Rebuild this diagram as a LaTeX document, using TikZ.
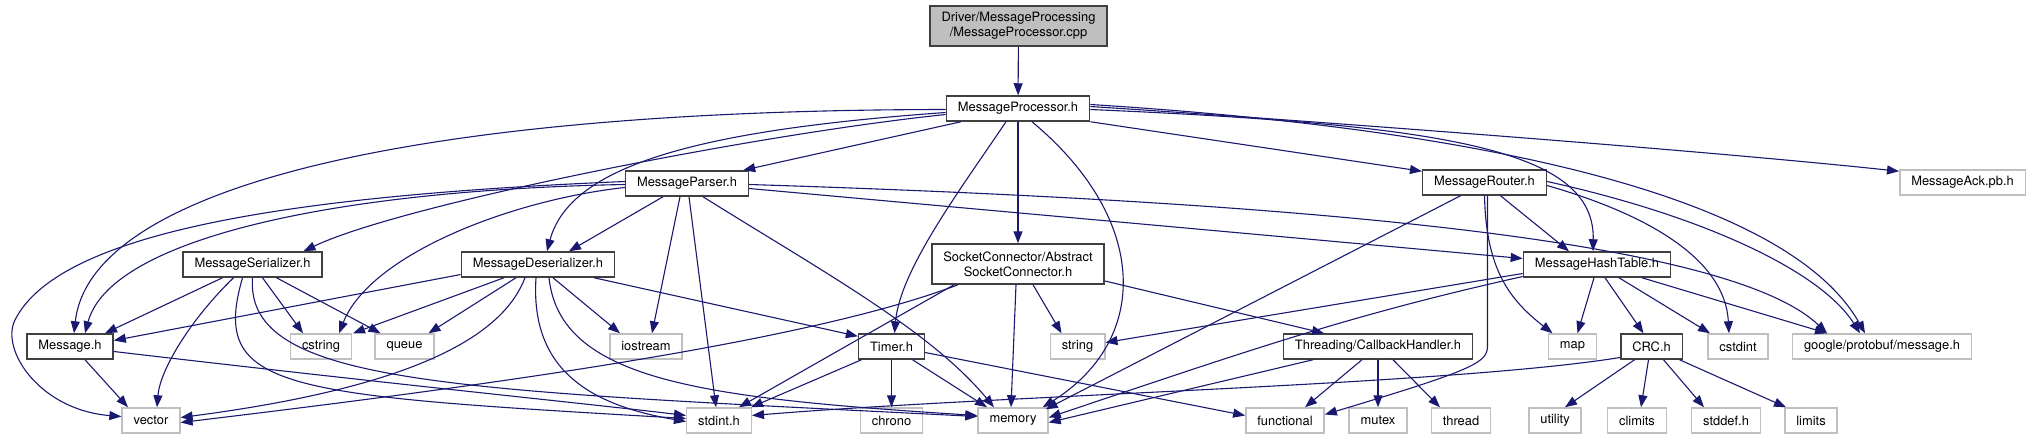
\documentclass[tikz,border=0pt]{standalone}
\usepackage{fontspec}
\setmainfont{TeX Gyre Heros}
\usetikzlibrary{arrows.meta}
\definecolor{edgeblue}{HTML}{191970}
\definecolor{boxgray}{HTML}{BFBFBF}
\begin{document}
\begin{tikzpicture}[x=1pt,y=-1pt,
  font=\fontsize{12.9}{15.3}\selectfont,
  hdr/.style={draw=black!75,fill=white,line width=1.5pt,
    minimum height=25pt,inner xsep=11.5pt,inner ysep=1pt,align=center},
  sys/.style={hdr,draw=boxgray},
  src/.style={hdr,fill=boxgray,minimum height=40pt},
  inc/.style={draw=edgeblue,line width=1.1pt,
    -{Triangle[length=12pt,width=9pt]}}]
\useasboundingbox (0,0) rectangle (2031,440);
\node[src] (cpp) at (1018.5,26) {Driver/MessageProcessing\\/MessageProcessor.cpp};
\node[hdr] (proc) at (1018,108.5) {MessageProcessor.h};
\node[hdr] (parser) at (687,183.5) {MessageParser.h};
\node[hdr] (router) at (1484.5,182.5) {MessageRouter.h};
\node[sys] (ack) at (1962.5,182.5) {MessageAck.pb.h};
\node[hdr] (ser) at (252.5,264.5) {MessageSerializer.h};
\node[hdr] (deser) at (538,264.5) {MessageDeserializer.h};
\node[hdr,minimum height=40pt] (sock) at (1018,264) {SocketConnector/Abstract\\SocketConnector.h};
\node[hdr] (hash) at (1597,264.5) {MessageHashTable.h};
\node[hdr] (msg) at (70,346.5) {Message.h};
\node[sys] (cstring) at (321,346.5) {cstring};
\node[sys] (queue) at (404.5,346.5) {queue};
\node[sys] (iostream) at (646,346.5) {iostream};
\node[hdr] (timer) at (891.5,346.5) {Timer.h};
\node[sys] (string) at (1077.5,346.5) {string};
\node[hdr] (cbh) at (1378,346.5) {Threading/CallbackHandler.h};
\node[sys] (map) at (1572.5,346.5) {map};
\node[hdr] (crc) at (1651.5,346.5) {CRC.h};
\node[sys] (cstdint) at (1738,346.5) {cstdint};
\node[sys] (protobuf) at (1882,346.5) {google/protobuf/message.h};
\node[sys] (vector) at (151,420.5) {vector};
\node[sys] (stdint) at (719,420.5) {stdint.h};
\node[sys] (chrono) at (891.5,420.5) {chrono};
\node[sys] (memory) at (1013,420.5) {memory};
\node[sys] (functional) at (1285,420.5) {functional};
\node[sys] (mutex) at (1378,420.5) {mutex};
\node[sys] (thread) at (1461,420.5) {thread};
\node[sys] (utility) at (1555,420.5) {utility};
\node[sys] (climits) at (1637,420.5) {climits};
\node[sys] (stddef) at (1726,420.5) {stddef.h};
\node[sys] (limits) at (1811,420.5) {limits};

\draw[inc] (cpp) -- (proc);
% MessageProcessor.h
\draw[inc] ([xshift=-57pt]proc.south) -- ([xshift=-6pt]parser.north east);
\draw[inc] (proc.south east) -- ([yshift=-2pt]router.north west);
\draw[inc] ([yshift=2pt]proc.east) .. controls (1300,120) and (1700,150) .. ([yshift=-2pt]ack.north west);
\draw[inc] ([yshift=-6pt]proc.west) .. controls (750,135) and (400,205) .. ([xshift=51pt]ser.north);
\draw[inc] ([yshift=-4pt]proc.west) .. controls (700,130) and (570,165) .. ([xshift=9pt]deser.north);
\draw[inc] ([yshift=-1pt]proc.west) .. controls (400,110) and (90,190) .. ([xshift=4pt]msg.north);
\draw[inc] (proc) -- (sock);
\draw[inc] ([xshift=-12pt]proc.south) .. controls (960,190) and (900,270) .. ([xshift=3pt]timer.north);
\draw[inc] ([xshift=14pt]proc.south) .. controls (1150,220) and (1150,340) .. ([xshift=-6pt]memory.north east);
\draw[inc] ([yshift=-1pt]proc.east) .. controls (1450,125) and (1595,150) .. ([xshift=-4pt]hash.north);
\draw[inc] ([yshift=4pt]proc.east) .. controls (1500,130) and (1790,200) .. ([xshift=-17pt]protobuf.north);
% MessageParser.h
\draw[inc] ([yshift=-1pt]parser.west) .. controls (330,190) and (110,240) .. ([xshift=15pt]msg.north);
\draw[inc] ([yshift=2pt]parser.west) .. controls (300,195) and (60,230) .. (15,320)
  .. controls (0,350) and (40,410) .. ([yshift=4pt]vector.west);
\draw[inc] ([yshift=-4pt]parser.west) .. controls (510,200) and (370,255) .. ([xshift=18pt]cstring.north);
\draw[inc] ([xshift=-24pt]parser.south) -- ([xshift=31pt]deser.north);
\draw[inc] ([xshift=-7pt]parser.south) -- ([xshift=6pt]iostream.north);
\draw[inc] ([xshift=2pt]parser.south) -- ([xshift=-3pt]stdint.north);
\draw[inc] ([xshift=16pt]parser.south) .. controls (820,270) and (930,330) .. ([xshift=-19pt]memory.north);
\draw[inc] ([yshift=-5pt]parser.east) -- ([yshift=6pt]hash.west);
\draw[inc] ([yshift=-1pt]parser.east) .. controls (1400,205) and (1740,250) .. ([xshift=-55pt]protobuf.north);
% MessageRouter.h
\draw[inc] ([xshift=-24pt]router.south) -- ([xshift=-3pt,yshift=-2pt]memory.north east);
\draw[inc] ([xshift=16pt]router.south) -- ([xshift=-28pt]hash.north);
\draw[inc] (router.south) .. controls (1486,270) and (1510,300) .. ([xshift=-20pt]map.north);
\draw[inc] ([xshift=3pt]router.south) -- (1487.5,345) .. controls (1487.5,362) and (1480,368) .. ([yshift=6pt]functional.east);
\draw[inc] ([yshift=-3pt]router.east) .. controls (1650,215) and (1725,260) .. ([xshift=-9pt]cstdint.north);
\draw[inc] ([yshift=1pt]router.east) .. controls (1700,215) and (1820,270) .. ([xshift=-22pt]protobuf.north);
% MessageSerializer.h
\draw[inc] ([xshift=-30pt]ser.south) -- ([xshift=35pt]msg.north);
\draw[inc] ([xshift=-19pt]ser.south) .. controls (190,320) and (160,370) .. ([xshift=6pt]vector.north);
\draw[inc] ([xshift=-10pt]ser.south) .. controls (210,390) and (280,395) .. ([yshift=2pt]stdint.west);
\draw[inc] (ser.south) .. controls (245,385) and (450,390) .. ([yshift=4pt]memory.west);
\draw[inc] ([xshift=10pt]ser.south) -- ([xshift=-18pt]cstring.north);
\draw[inc] ([xshift=24pt]ser.south) -- ([xshift=-24pt]queue.north);
% MessageDeserializer.h
\draw[inc] ([yshift=-10pt]deser.west) -- ([yshift=6pt]msg.east);
\draw[inc] ([xshift=-34pt]deser.south) -- ([xshift=32pt]cstring.north);
\draw[inc] ([xshift=-22pt]deser.south) -- ([xshift=24pt]queue.north);
\draw[inc] ([xshift=-13pt]deser.south) .. controls (505,330) and (430,385) .. ([yshift=3pt]vector.east);
\draw[inc] ([xshift=-2pt]deser.south) .. controls (530,370) and (590,405) .. ([yshift=-1pt]stdint.west);
\draw[inc] ([xshift=11pt]deser.south) .. controls (560,380) and (700,398) .. ([yshift=5pt]memory.west);
\draw[inc] ([xshift=15pt]deser.south) -- ([xshift=-26pt]iostream.north);
\draw[inc] ([xshift=56pt]deser.south) -- ([yshift=-3pt]timer.north west);
% SocketConnector.h
\draw[inc] ([xshift=-60pt]sock.south) .. controls (800,345) and (450,390) .. ([yshift=-2pt]vector.east);
\draw[inc] ([xshift=-64pt]sock.south) -- ([xshift=20pt]stdint.north);
\draw[inc] ([xshift=-2pt]sock.south) -- ([xshift=-2pt]memory.north);
\draw[inc] ([xshift=15pt]sock.south) -- ([xshift=-16pt]string.north);
\draw[inc] ([yshift=-17pt]sock.east) -- ([xshift=-54pt]cbh.north);
% MessageHashTable.h
\draw[inc] ([yshift=-9pt]hash.west) -- ([yshift=4pt]string.east);
\draw[inc] ([yshift=-12pt]hash.west) .. controls (1350,315) and (1250,350) .. ([yshift=3pt]memory.east);
\draw[inc] ([xshift=-3pt]hash.south) -- ([xshift=5pt]map.north);
\draw[inc] ([xshift=8pt]hash.south) -- ([xshift=-8pt]crc.north);
\draw[inc] ([xshift=22pt]hash.south) -- ([xshift=-28pt]cstdint.north);
\draw[inc] ([xshift=45pt]hash.south) -- ([xshift=-55pt]protobuf.north);
% Message.h
\draw[inc] ([xshift=15pt]msg.south) -- ([xshift=-23pt]vector.north);
\draw[inc] ([yshift=-5pt]msg.east) .. controls (400,385) and (600,405) .. ([yshift=5pt]stdint.west);
% Timer.h
\draw[inc] ([xshift=-30pt]timer.south) -- ([xshift=-1pt]stdint.north east);
\draw[inc] (timer) -- (chrono);
\draw[inc] ([xshift=21pt]timer.south) -- ([xshift=-26pt]memory.north);
\draw[inc] ([yshift=-6pt]timer.east) -- ([yshift=5pt]functional.west);
% CallbackHandler.h
\draw[inc] ([xshift=-65pt]cbh.south) -- ([yshift=-2pt]memory.east);
\draw[inc] ([xshift=-16pt]cbh.south) -- ([xshift=20pt]functional.north);
\draw[inc] (cbh) -- (mutex);
\draw[inc] ([xshift=15pt]cbh.south) -- ([xshift=-21pt]thread.north);
% CRC.h
\draw[inc] ([yshift=-11pt]crc.west) .. controls (1450,385) and (1000,395) .. ([yshift=5pt]stdint.east);
\draw[inc] ([xshift=-17pt]crc.south) -- ([xshift=10pt]utility.north);
\draw[inc] ([xshift=-3pt]crc.south) -- ([xshift=4pt]climits.north);
\draw[inc] ([xshift=12pt]crc.south) -- ([xshift=-22pt]stddef.north);
\draw[inc] ([xshift=28pt]crc.south) -- ([xshift=-25pt]limits.north);
\end{tikzpicture}
\end{document}
